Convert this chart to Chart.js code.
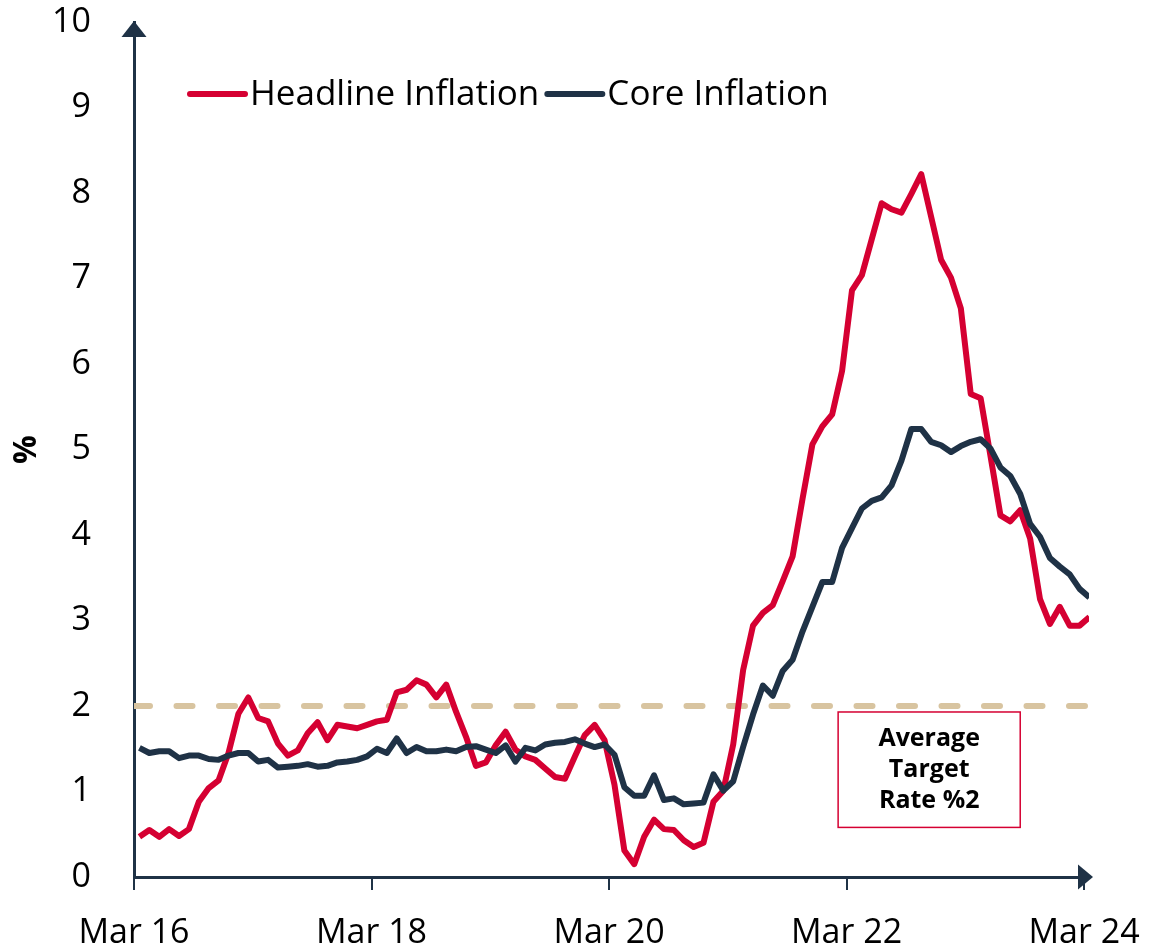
<!DOCTYPE html>
<html>
<head>
<meta charset="utf-8">
<title>Headline and Core Inflation</title>
<script src="https://cdn.jsdelivr.net/npm/chart.js@4.4.1/dist/chart.umd.min.js"></script>
<style>
  html, body { margin: 0; padding: 0; background: #fff; }
  #wrap { width: 1150px; height: 951px; }
</style>
</head>
<body>
<div id="wrap"><canvas id="inflationChart" width="1150" height="951"></canvas></div>
<script>
// Monthly year-on-year rates, Mar 16 .. Mar 24 (97 readings)
const headline = [
  0.47, 0.55, 0.47, 0.56, 0.48, 0.56, 0.88, 1.04, 1.13, 1.45, 1.91, 2.10,
  1.86, 1.82, 1.56, 1.42, 1.48, 1.68, 1.81, 1.60, 1.78, 1.76, 1.74, 1.78,
  1.82, 1.84, 2.16, 2.19, 2.30, 2.25, 2.10, 2.25, 1.93, 1.64, 1.30, 1.34,
  1.54, 1.70, 1.49, 1.41, 1.37, 1.27, 1.17, 1.15, 1.41, 1.66, 1.78, 1.60,
  1.08, 0.31, 0.15, 0.47, 0.67, 0.56, 0.55, 0.43, 0.35, 0.40, 0.88, 1.01,
  1.55, 2.42, 2.94, 3.09, 3.18, 3.46, 3.75, 4.42, 5.06, 5.27, 5.41, 5.92,
  6.86, 7.04, 7.46, 7.88, 7.81, 7.77, 7.99, 8.22, 7.72, 7.22, 7.01, 6.65,
  5.65, 5.60, 4.92, 4.23, 4.16, 4.29, 3.96, 3.25, 2.96, 3.16, 2.94, 2.94,
  3.04
];
const core = [
  1.51, 1.45, 1.47, 1.47, 1.39, 1.42, 1.42, 1.38, 1.37, 1.42, 1.45, 1.45,
  1.35, 1.37, 1.28, 1.29, 1.30, 1.32, 1.29, 1.30, 1.34, 1.35, 1.37, 1.41,
  1.50, 1.45, 1.62, 1.45, 1.52, 1.47, 1.47, 1.49, 1.47, 1.52, 1.53, 1.49,
  1.45, 1.54, 1.35, 1.51, 1.48, 1.55, 1.57, 1.58, 1.61, 1.56, 1.52, 1.55,
  1.43, 1.05, 0.95, 0.95, 1.19, 0.90, 0.92, 0.85, 0.86, 0.87, 1.20, 1.01,
  1.12, 1.52, 1.90, 2.24, 2.12, 2.41, 2.54, 2.87, 3.16, 3.45, 3.45, 3.85,
  4.08, 4.31, 4.40, 4.44, 4.58, 4.87, 5.24, 5.24, 5.09, 5.05, 4.97, 5.04,
  5.09, 5.12, 5.01, 4.79, 4.69, 4.48, 4.13, 3.98, 3.73, 3.63, 3.54, 3.37,
  3.27
];
const targetRate = 2;
const tickMonths = [0, 24, 48, 72, 96];
const tickLabels = ['Mar 16', 'Mar 18', 'Mar 20', 'Mar 22', 'Mar 24'];
const noteLines = ['Average', 'Target', 'Rate %2'];

const NAVY = '#1f3246';
const RED = '#d50032';
const TAN = '#d8c4a0';
const FONT = '"Open Sans", "Noto Sans", sans-serif';

const X_MAX = 96.5;     // axis runs a little past the last reading
const PT_SHIFT = 0.55;  // readings sit mid-month, ticks at month start
const toPoints = arr => arr.map((v, i) => ({ x: i + PT_SHIFT, y: v }));

// legend, arrow heads and the target note box
const decorations = {
  id: 'decorations',
  afterDraw(chart) {
    const { ctx, chartArea: a, scales: { x, y } } = chart;
    ctx.save();

    // arrow heads on both axes
    ctx.fillStyle = NAVY;
    ctx.beginPath();
    ctx.moveTo(a.left, a.top - 1);
    ctx.lineTo(a.left - 12.5, a.top + 15);
    ctx.lineTo(a.left + 12.5, a.top + 15);
    ctx.closePath();
    ctx.fill();
    ctx.beginPath();
    ctx.moveTo(a.right + 4, a.bottom);
    ctx.lineTo(a.right - 11, a.bottom - 12.5);
    ctx.lineTo(a.right - 11, a.bottom + 12.5);
    ctx.closePath();
    ctx.fill();

    // legend
    let lx = 190;
    const ly = 94;
    ctx.font = '35px ' + FONT;
    ctx.textBaseline = 'middle';
    ctx.textAlign = 'left';
    chart.data.datasets.filter(d => d.inLegend).forEach(d => {
      ctx.strokeStyle = d.borderColor;
      ctx.lineWidth = 6;
      ctx.lineCap = 'round';
      ctx.beginPath();
      ctx.moveTo(lx, ly);
      ctx.lineTo(lx + 55, ly);
      ctx.stroke();
      ctx.fillStyle = '#000';
      ctx.fillText(d.label, lx + 60, ly + 1);
      lx += 60 + ctx.measureText(d.label).width + 8;
    });

    // note box below the target line
    const bx0 = x.getPixelForValue(71.15), bx1 = x.getPixelForValue(89.55);
    const by0 = y.getPixelForValue(1.93), by1 = y.getPixelForValue(0.58);
    ctx.fillStyle = '#fff';
    ctx.fillRect(bx0, by0, bx1 - bx0, by1 - by0);
    ctx.strokeStyle = RED;
    ctx.lineWidth = 1.5;
    ctx.strokeRect(bx0, by0, bx1 - bx0, by1 - by0);
    ctx.fillStyle = '#000';
    ctx.font = 'bold 25px ' + FONT;
    ctx.textAlign = 'center';
    const cx = (bx0 + bx1) / 2, cy = (by0 + by1) / 2;
    noteLines.forEach((t, i) => {
      ctx.fillText(t, cx, cy + (i - 1) * 31);
    });

    ctx.restore();
  }
};

new Chart(document.getElementById('inflationChart'), {
  type: 'line',
  data: {
    datasets: [
      {
        label: 'Core Inflation',
        data: toPoints(core),
        borderColor: NAVY,
        borderWidth: 6,
        order: 0,
        inLegend: true
      },
      {
        label: 'Headline Inflation',
        data: toPoints(headline),
        borderColor: RED,
        borderWidth: 6,
        order: 1,
        inLegend: true
      },
      {
        label: 'Target',
        data: [{ x: 0, y: targetRate }, { x: X_MAX, y: targetRate }],
        borderColor: TAN,
        borderWidth: 6,
        borderDash: [16, 26.5],
        borderCapStyle: 'round',
        order: 2
      }
    ].reverse()
  },
  options: {
    responsive: false,
    animation: false,
    devicePixelRatio: 1,
    layout: { padding: { left: 0, right: 61, top: 22, bottom: 0 } },
    elements: {
      point: { radius: 0, hoverRadius: 0 },
      line: { tension: 0, borderJoinStyle: 'round', fill: false }
    },
    plugins: {
      legend: { display: false },
      tooltip: { enabled: false }
    },
    scales: {
      x: {
        type: 'linear',
        min: 0,
        max: X_MAX,
        afterFit: s => {
          s.height = 74;
          s.paddingLeft = 0;
          s.paddingRight = 0;
        },
        afterBuildTicks: s => { s.ticks = tickMonths.map(v => ({ value: v })); },
        grid: {
          display: true,
          drawOnChartArea: false,
          drawTicks: true,
          tickLength: 13,
          color: NAVY,
          lineWidth: 2
        },
        border: { display: true, color: NAVY, width: 3 },
        ticks: {
          autoSkip: false,
          maxRotation: 0,
          padding: 23,
          color: '#000',
          font: { family: FONT, size: 34 },
          callback: v => tickLabels[tickMonths.indexOf(v)] ?? ''
        }
      },
      y: {
        min: 0,
        max: 10,
        afterFit: s => {
          s.width = 134;
          s.paddingTop = 0;
          s.paddingBottom = 0;
        },
        grid: { display: false },
        border: { display: true, color: NAVY, width: 3 },
        ticks: {
          stepSize: 1,
          padding: 35,
          color: '#000',
          font: { family: FONT, size: 34 }
        },
        title: {
          display: true,
          text: '%',
          color: '#000',
          padding: { top: 8, bottom: 0 },
          font: { family: FONT, size: 32, weight: 'bold' }
        }
      }
    }
  },
  plugins: [decorations]
});
</script>
</body>
</html>
